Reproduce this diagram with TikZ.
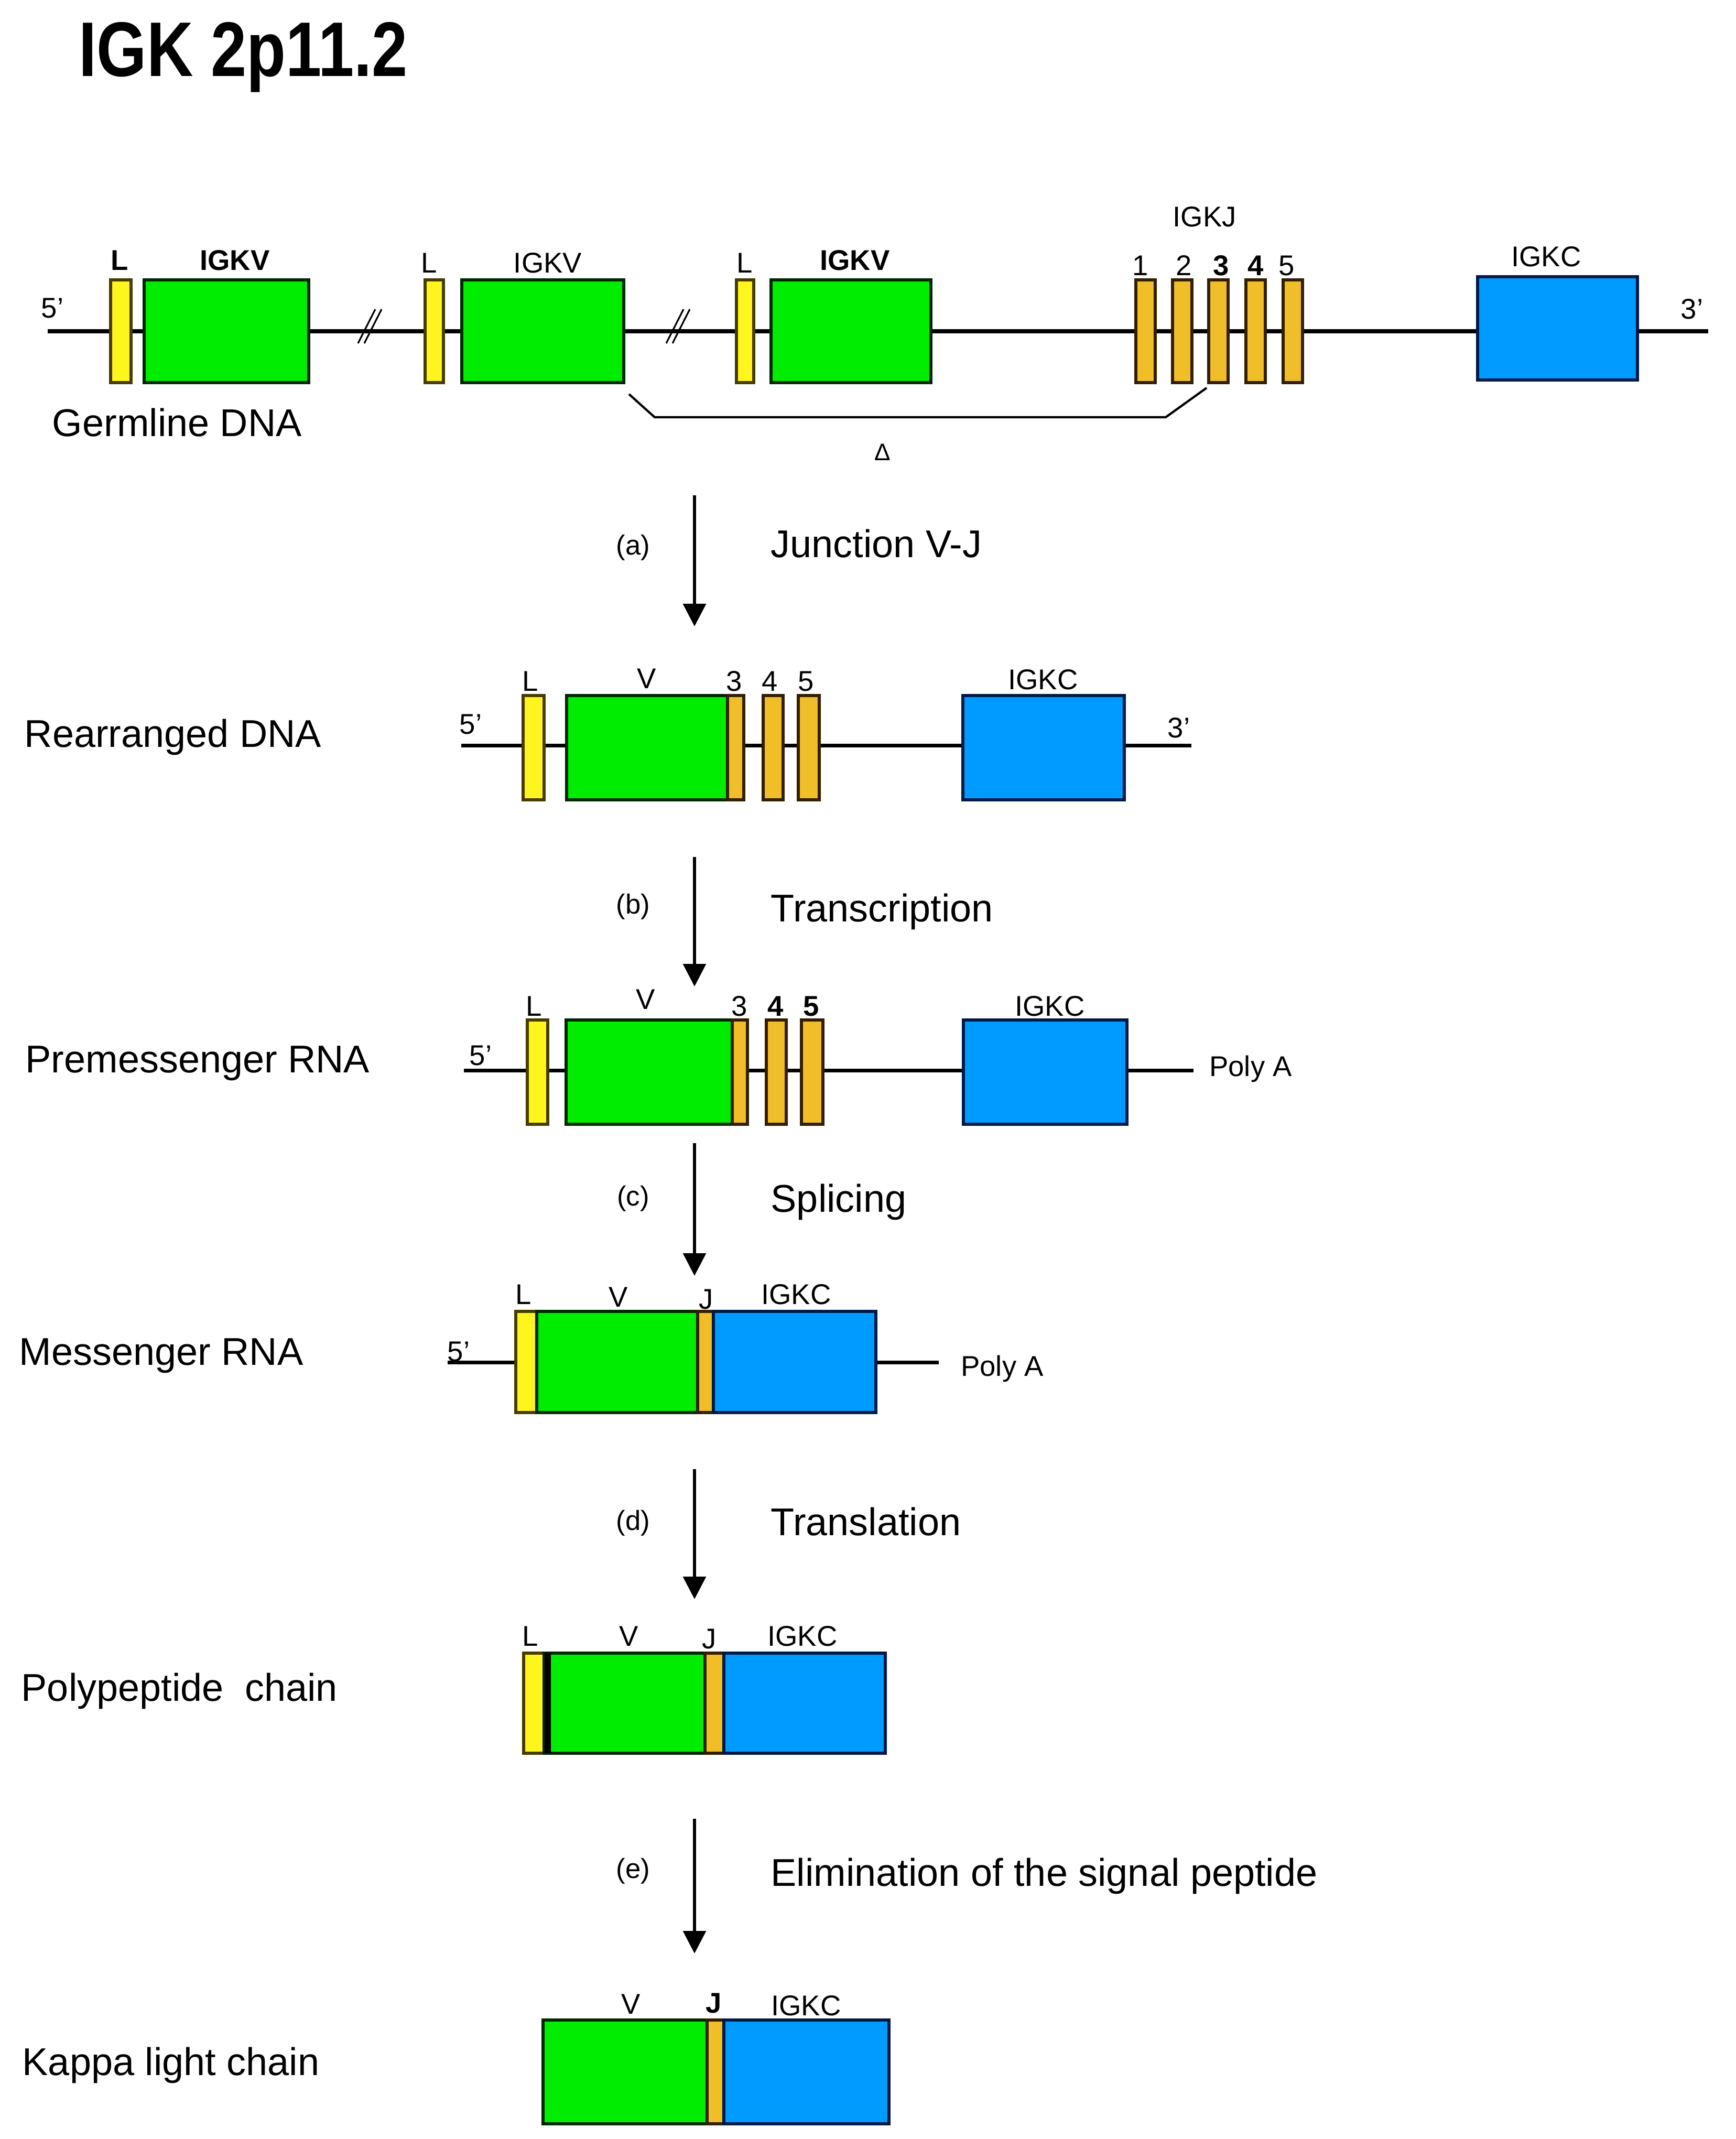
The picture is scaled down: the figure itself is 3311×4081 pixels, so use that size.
\documentclass[tikz,border=0pt]{standalone}
\usepackage{fontspec}
\setmainfont{Liberation Sans}
\usepackage{graphicx}
\usetikzlibrary{arrows.meta}
\definecolor{vgreen}{RGB}{0,236,0}
\definecolor{vgreendk}{RGB}{0,40,0}
\definecolor{lyellow}{RGB}{255,245,30}
\definecolor{lyellowdk}{RGB}{70,60,0}
\definecolor{jgold}{RGB}{240,190,40}
\definecolor{jgolddk}{RGB}{50,30,0}
\definecolor{cblue}{RGB}{0,155,255}
\definecolor{cbluedk}{RGB}{0,25,70}
\tikzset{>=latex}
\tikzstyle{strand}=[draw=black,line width=2pt]
\tikzstyle{lbox}=[fill=lyellow,draw=lyellowdk,line width=1.7pt]
\tikzstyle{vbox}=[fill=vgreen,draw=vgreendk,line width=1.7pt]
\tikzstyle{jbox}=[fill=jgold,draw=jgolddk,line width=1.7pt]
\tikzstyle{cbox}=[fill=cblue,draw=cbluedk,line width=1.7pt]
\tikzstyle{break mark}=[draw=black,line width=0.9pt]
\tikzstyle{bracket}=[draw=black,line width=1.2pt]
\tikzstyle{step arrow}=[-{Triangle[length=0.43cm,width=0.43cm]},line width=1.7pt]
\tikzstyle{big label}=[font=\fontsize{21}{25}\selectfont,inner sep=0,anchor=base]
\tikzstyle{step label}=[font=\fontsize{15}{18}\selectfont,inner sep=0,anchor=base]
\tikzstyle{small label}=[font=\fontsize{15.5}{18}\selectfont,inner sep=0,anchor=base]
\tikzstyle{small bold}=[small label,font=\fontsize{15.5}{18}\selectfont\bfseries]

\begin{document}
\begin{tikzpicture}[x=0.01cm,y=-0.01cm]
  \useasboundingbox (0,0) rectangle (3311,4081);

  % TITLE
  \node[inner sep=0,anchor=base west,font=\fontsize{42}{48}\selectfont\bfseries]
    (title) at (150,145) {\scalebox{0.83}[1]{IGK 2p11.2}};

  % GERMLINE DNA
  \def\ya{632}
  \draw[strand] (91,\ya) -- (3259,\ya);
  \foreach \xl/\xr in {211/250, 811/846, 1405/1438}
    \draw[lbox] (\xl,534) rectangle (\xr,730);
  \foreach \xl/\xr in {275/589, 881/1190, 1471/1776}
    \draw[vbox] (\xl,534) rectangle (\xr,730);
  \foreach \xl in {2167,2237,2306,2377,2448}
    \draw[jbox] (\xl,534) rectangle ++(37,196);
  \draw[cbox] (2819,528) rectangle (3124,725);
  \foreach \xb in {683,1271}{
    \draw[break mark] (\xb,655) -- ++(33,-65);
    \draw[break mark] (\xb+12,655) -- ++(33,-65);
  }
  \draw[bracket] (1200,752) -- (1249,796) -- (2224,796) -- (2302,740);

  \node[small bold]  (gL1) at (228,515) {L};
  \node[small bold]  (gV1) at (448,515) {IGKV};
  \node[small label] (gL2) at (819,520) {L};
  \node[small label] (gV2) at (1045,520) {IGKV};
  \node[small label] (gL3) at (1421,520) {L};
  \node[small bold]  (gV3) at (1631,515) {IGKV};
  \node[small label] (gJ)  at (2298,432) {IGKJ};
  \node[small label] (gJ1) at (2176,525) {1};
  \node[small label] (gJ2) at (2259,525) {2};
  \node[small bold]  (gJ3) at (2330,525) {3};
  \node[small bold]  (gJ4) at (2396,525) {4};
  \node[small label] (gJ5) at (2455,525) {5};
  \node[small label] (gC)  at (2950,508) {IGKC};
  \node[small label] (g5)  at (100,606) {5'};
  \node[small label] (g3)  at (3228,608) {3'};
  \node[step label,font=\fontsize{13}{15}\selectfont] (gdel) at (1684,878) {Δ};
  \node[big label] (germ) at (338,832) {Germline DNA};

  % REARRANGED DNA
  \def\yb{1422}
  \draw[strand] (880,\yb) -- (2273,\yb);
  \draw[lbox] (998,1327) rectangle (1038,1526);
  \draw[vbox] (1081,1327) rectangle (1388,1526);
  \draw[jbox] (1388,1327) rectangle (1419,1526);
  \draw[jbox] (1456,1327) rectangle (1494,1526);
  \draw[jbox] (1523,1327) rectangle (1563,1526);
  \draw[cbox] (1837,1327) rectangle (2145,1526);
  \node[small label] (rL)  at (1012,1318) {L};
  \node[small label] (rV)  at (1234,1313) {V};
  \node[small label] (rJ3) at (1401,1318) {3};
  \node[small label] (rJ4) at (1469,1318) {4};
  \node[small label] (rJ5) at (1538,1318) {5};
  \node[small label] (rC)  at (1990,1315) {IGKC};
  \node[small label] (r5)  at (898,1400) {5'};
  \node[small label] (r3)  at (2249,1407) {3'};
  \node[big label,anchor=base west] (rearr) at (46,1425) {Rearranged DNA};

  % PREMESSENGER RNA
  \def\yc{2042}
  \draw[strand] (885,\yc) -- (2277,\yc);
  \draw[lbox] (1006,1946) rectangle (1045,2145);
  \draw[vbox] (1080,1946) rectangle (1397,2145);
  \draw[jbox] (1397,1946) rectangle (1426,2145);
  \draw[jbox] (1462,1946) rectangle (1500,2145);
  \draw[jbox] (1529,1946) rectangle (1570,2145);
  \draw[cbox] (1838,1946) rectangle (2150,2145);
  \node[small label] (pL)  at (1019,1938) {L};
  \node[small label] (pV)  at (1232,1925) {V};
  \node[small label] (pJ3) at (1411,1938) {3};
  \node[small bold]  (pJ4) at (1480,1938) {4};
  \node[small bold]  (pJ5) at (1548,1938) {5};
  \node[small label] (pC)  at (2003,1938) {IGKC};
  \node[small label] (p5)  at (917,2032) {5'};
  \node[small label] (pA)  at (2386,2053) {Poly A};
  \node[big label,anchor=base west] (premrna) at (48,2046) {Premessenger RNA};

  % MESSENGER RNA
  \def\yd{2599}
  \draw[strand] (854,\yd) -- (984,\yd);
  \draw[strand] (1671,\yd) -- (1791,\yd);
  \draw[lbox] (984,2502) rectangle (1024,2695);
  \draw[vbox] (1024,2502) rectangle (1331,2695);
  \draw[jbox] (1331,2502) rectangle (1361,2695);
  \draw[cbox] (1361,2502) rectangle (1671,2695);
  \node[small label] (mL) at (999,2488) {L};
  \node[small label] (mV) at (1180,2493) {V};
  \node[small label] (mJ) at (1347,2497) {J};
  \node[small label] (mC) at (1519,2488) {IGKC};
  \node[small label] (m5) at (875,2597) {5'};
  \node[small label] (mA) at (1912,2625) {Poly A};
  \node[big label,anchor=base west] (mrna) at (36,2604) {Messenger RNA};

  % POLYPEPTIDE CHAIN
  \draw[lbox] (999,3154) rectangle (1038,3345);
  \draw[vbox] (1038,3154) rectangle (1345,3345);
  \draw[jbox] (1345,3154) rectangle (1381,3345);
  \draw[cbox] (1381,3154) rectangle (1689,3345);
  \draw[line width=3.5pt] (1045,3154) -- (1045,3345);
  \node[small label] (yL) at (1012,3140) {L};
  \node[small label] (yV) at (1200,3140) {V};
  \node[small label] (yJ) at (1353,3145) {J};
  \node[small label] (yC) at (1531,3140) {IGKC};
  \node[big label,anchor=base west] (poly) at (40,3245) {Polypeptide\ \ chain};

  % KAPPA LIGHT CHAIN
  \draw[vbox] (1036,3854) rectangle (1349,4052);
  \draw[jbox] (1349,3854) rectangle (1381,4052);
  \draw[cbox] (1381,3854) rectangle (1696,4052);
  \node[small label] (kV) at (1204,3842) {V};
  \node[small bold]  (kJ) at (1362,3840) {J};
  \node[small label] (kC) at (1538,3845) {IGKC};
  \node[big label,anchor=base west] (kappa) at (42,3959) {Kappa light chain};

  % STEPS
  \foreach \n/\ytop/\ybot/\ylab/\ytxt/\txt in {
      a/945/1195/1058/1063/Junction V-J,
      b/1635/1882/1743/1758/Transcription,
      c/2181/2434/2300/2312/Splicing,
      d/2803/3051/2919/2929/Translation,
      e/3470/3727/3583/3598/Elimination of the signal peptide}{
    \coordinate (top\n) at (1325,\ytop);
    \coordinate (bot\n) at (1325,\ybot);
    \draw[step arrow] (top\n) -- (bot\n);
    \node[step label] (lab\n) at (1208,\ylab) {(\n)};
    \node[big label,anchor=base west] (txt\n) at (1470,\ytxt) {\txt};
  }

\end{tikzpicture}
\end{document}
